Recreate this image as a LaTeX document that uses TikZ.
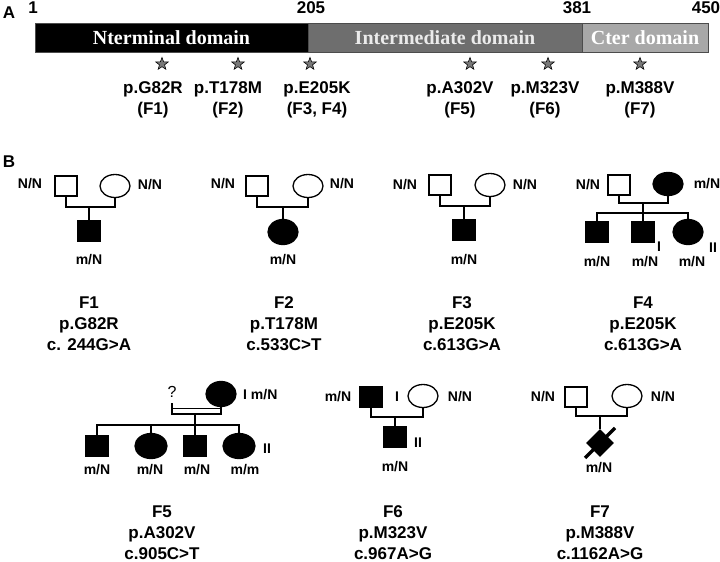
\documentclass[tikz,border=0pt]{standalone}
\usepackage{fontspec}
\setmainfont{Liberation Sans}
\newfontfamily\serifb{Liberation Serif}
\usetikzlibrary{shapes.geometric,calc}
\definecolor{midgray}{RGB}{110,110,110}
\definecolor{lightgray2}{RGB}{168,168,168}
\definecolor{stargray}{RGB}{120,120,120}
\begin{document}
\begin{tikzpicture}[x=1pt,y=-1pt,
  male/.style={draw, line width=1.3pt, rectangle, minimum width=22pt, minimum height=20pt, inner sep=0pt},
  female/.style={draw, line width=1.3pt, ellipse, minimum width=30pt, minimum height=23pt, inner sep=0pt},
  aff/.style={fill=black},
  gt/.style={font=\fontsize{14}{14}\selectfont\bfseries, inner sep=0pt},
  capt/.style={font=\fontsize{17}{21}\selectfont\bfseries, align=center, inner sep=0pt},
  lab/.style={font=\fontsize{17}{21}\selectfont\bfseries, inner sep=0pt},
  pl/.style={line width=1.6pt},
  seg/.style={draw=black!70, line width=0.6pt, minimum height=29pt, inner sep=0pt, font=\serifb\fontsize{20}{20}\selectfont\bfseries},
  mut/.style={star, star points=5, star point ratio=2.4, draw=black, fill=stargray, line width=0.6pt, minimum size=13pt, inner sep=0pt},
]
\useasboundingbox (0,0) rectangle (720,562);
% ---------- Panel A ----------
\node[lab] (labA) at (9,13) {A};
\node[lab] (n1) at (33,8) {1};
\node[lab] (n205) at (311,8) {205};
\node[lab] (n381) at (577,8) {381};
\node[lab] (n450) at (706,8) {450};
\node[seg, fill=black, text=white, minimum width=273pt] (nterm) at (171.5,37.5) {Nterminal domain};
\node[seg, fill=midgray, text=black!8, minimum width=274pt] (inter) at (445,37.5) {Intermediate domain};
\node[seg, fill=lightgray2, text=white, minimum width=126pt] (cter) at (645,37.5) {Cter domain};
\node[mut] (s1) at (162,64) {};
\node[mut] (s2) at (238,64) {};
\node[mut] (s3) at (310,64) {};
\node[mut] (s4) at (470,64) {};
\node[mut] (s5) at (548,64) {};
\node[mut] (s6) at (640,64) {};
\node[capt] (m1) at (153,99.5) {p.G82R\\(F1)};
\node[capt] (m2) at (228,99.5) {p.T178M\\(F2)};
\node[capt] (m3) at (317,99.5) {p.E205K\\(F3, F4)};
\node[capt] (m4) at (460,99.5) {p.A302V\\(F5)};
\node[capt] (m5) at (545,99.5) {p.M323V\\(F6)};
\node[capt] (m6) at (640,99.5) {p.M388V\\(F7)};
% ---------- Panel B ----------
\node[lab] (labB) at (9,162) {B};
% F1
\node[gt] (f1fg) at (30,184) {N/N};
\node[male] (f1f) at (66,186) {};
\node[female] (f1m) at (115,186) {};
\node[gt] (f1mg) at (150,185) {N/N};
\coordinate (f1j) at (89,207);
\draw[pl] (f1f.south) |- (f1j) -| (f1m.south);
\node[male,aff] (f1c) at (89,231) {};
\draw[pl] (f1j) -- (f1c.north);
\node[gt] (f1cg) at (89,260) {m/N};
\node[capt] (f1t) at (89,324) {F1\\p.G82R\\c. 244G>A};
% F2
\node[gt] (f2fg) at (223,184) {N/N};
\node[male] (f2f) at (257,186) {};
\node[female] (f2m) at (308,186) {};
\node[gt] (f2mg) at (342,184) {N/N};
\coordinate (f2j) at (283,207);
\draw[pl] (f2f.south) |- (f2j) -| (f2m.south);
\node[female,aff,minimum height=25pt] (f2c) at (283,232) {};
\draw[pl] (f2j) -- (f2c.north);
\node[gt] (f2cg) at (283,260) {m/N};
\node[capt] (f2t) at (284,324) {F2\\p.T178M\\c.533C>T};
% F3
\node[gt] (f3fg) at (405,185) {N/N};
\node[male] (f3f) at (440,185) {};
\node[female] (f3m) at (490,185) {};
\node[gt] (f3mg) at (525,185) {N/N};
\coordinate (f3j) at (464,206);
\draw[pl] (f3f.south) |- (f3j) -| (f3m.south);
\node[male,aff] (f3c) at (464,230) {};
\draw[pl] (f3j) -- (f3c.north);
\node[gt] (f3cg) at (464,260) {m/N};
\node[capt] (f3t) at (462,324) {F3\\p.E205K\\c.613G>A};
% F4
\node[gt] (f4fg) at (588,185) {N/N};
\node[male] (f4f) at (619,185) {};
\node[female,aff] (f4m) at (668,184) {};
\node[gt] (f4mg) at (707,184) {m/N};
\coordinate (f4j) at (643,203);
\coordinate (f4s) at (643,213);
\draw[pl] (f4f.south) |- (f4j) -| (f4m.south);
\node[male,aff] (f4c1) at (597,232) {};
\node[male,aff] (f4c2) at (643,232) {};
\node[female,aff,minimum height=25pt] (f4c3) at (688,232) {};
\draw[pl] (f4j) -- (f4c2.north);
\draw[pl] (f4c1.north) |- (f4s) -| (f4c3.north);
\node[gt] (f4c1g) at (597,262) {m/N};
\node[gt] (f4c2g) at (645,262) {m/N};
\node[gt] (f4c3g) at (692,262) {m/N};
\node[gt] (f4i) at (659,247) {I};
\node[gt] (f4ii) at (713,248) {II};
\node[capt] (f4t) at (643,324) {F4\\p.E205K\\c.613G>A};
% F5
\node[font=\fontsize{16}{16}\selectfont, inner sep=0pt] (f5q) at (172,392) {?};
\node[female,aff,minimum height=25pt] (f5m) at (221,394) {};
\node[gt, anchor=west] (f5mg) at (243,395) {I m/N};
\coordinate (f5a) at (172,403);
\coordinate (f5bl) at (172,414);
\coordinate (f5br) at (221,414);
\coordinate (f5tl) at (172,408.5);
\coordinate (f5tr) at (221,408.5);
\draw[line width=1.3pt] (f5a) -- (f5bl) -- (f5br) -- (f5m.south);
\draw[line width=1.3pt] (f5tl) -- (f5tr);
\coordinate (f5j) at (195,414);
\coordinate (f5s) at (195,425);
\node[male,aff] (f5c1) at (97,446) {};
\node[female,aff,minimum width=32pt,minimum height=25pt] (f5c2) at (151,446) {};
\node[male,aff] (f5c3) at (195,446) {};
\node[female,aff,minimum width=32pt,minimum height=25pt] (f5c4) at (239,446) {};
\draw[pl] (f5j) -- (f5c3.north);
\draw[pl] (f5c1.north) |- (f5s) -| (f5c4.north);
\draw[pl] (f5c2.north) -- (f5c2.north |- f5s);
\node[gt] (f5ii) at (267,449) {II};
\node[gt] (f5c1g) at (97,470) {m/N};
\node[gt] (f5c2g) at (150,470) {m/N};
\node[gt] (f5c3g) at (197,470) {m/N};
\node[gt] (f5c4g) at (245,470) {m/m};
\node[capt] (f5t) at (162,533) {F5\\p.A302V\\c.905C>T};
% F6
\node[gt] (f6fg) at (338,397) {m/N};
\node[male,aff] (f6f) at (371,397) {};
\node[gt] (f6i) at (397,397) {I};
\node[female] (f6m) at (423,396) {};
\node[gt] (f6mg) at (460,397) {N/N};
\coordinate (f6j) at (395,417);
\draw[pl] (f6f.south) |- (f6j) -| (f6m.south);
\node[male,aff] (f6c) at (395,437) {};
\draw[pl] (f6j) -- (f6c.north);
\node[gt] (f6ii) at (418,443) {II};
\node[gt] (f6cg) at (395,467) {m/N};
\node[capt] (f6t) at (393,533) {F6\\p.M323V\\c.967A>G};
% F7
\node[gt] (f7fg) at (543,397) {N/N};
\node[male] (f7f) at (576,397) {};
\node[female] (f7m) at (627,396) {};
\node[gt] (f7mg) at (663,397) {N/N};
\coordinate (f7j) at (600,416);
\draw[pl] (f7f.south) |- (f7j) -| (f7m.south);
\node[diamond, aspect=1, fill=black, minimum size=28pt, inner sep=0pt] (f7c) at (600,443) {};
\draw[pl] (f7j) -- (f7c.north);
\coordinate (f7sa) at ($(f7c)+(-15,15)$);
\coordinate (f7sb) at ($(f7c)+(15,-15)$);
\draw[line width=3.5pt] (f7sa) -- (f7sb);
\node[gt] (f7cg) at (599,468) {m/N};
\node[capt] (f7t) at (600,533) {F7\\p.M388V\\c.1162A>G};
\end{tikzpicture}
\end{document}
